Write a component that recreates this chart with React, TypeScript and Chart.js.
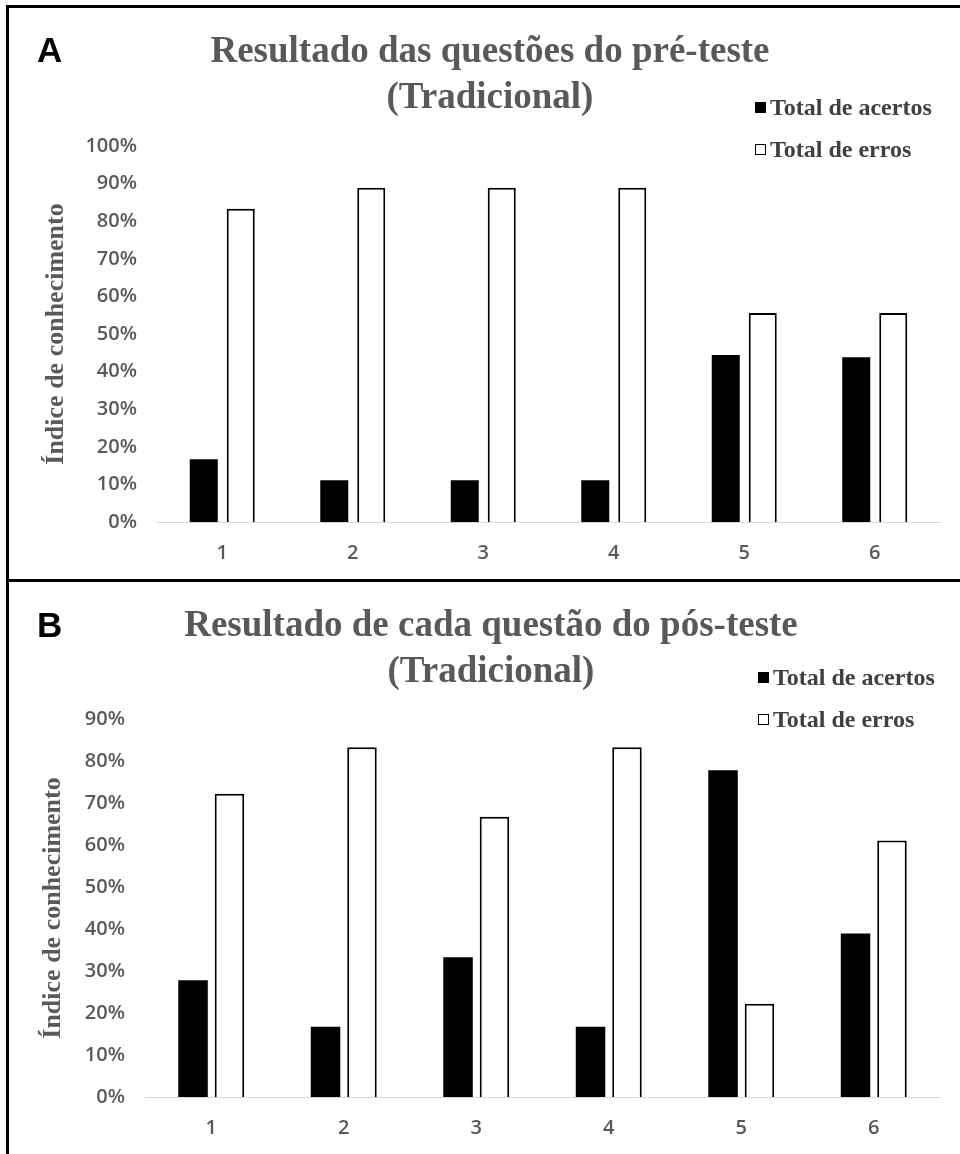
import React, { useEffect, useRef } from "react";
import { Chart, registerables } from "chart.js";
Chart.register(...registerables);

const questions = ["1", "2", "3", "4", "5", "6"];
const seriesLabels = ["Total de acertos", "Total de erros"];

const preAcertos = [16.7, 11.1, 11.1, 11.1, 44.4, 43.8];
const preErros = [83.3, 88.9, 88.9, 88.9, 55.6, 55.6];
const posAcertos = [27.8, 16.7, 33.3, 16.7, 77.8, 38.9];
const posErros = [72.2, 83.3, 66.7, 83.3, 22.2, 61.1];

const preYMax = 100;
const posYMax = 90;
const yStep = 10;

const preTitle = ["Resultado das questões do pré-teste", "(Tradicional)"];
const posTitle = ["Resultado de cada questão do pós-teste", "(Tradicional)"];
const yTitle = "Índice de conhecimento";
const panelLetters = ["A", "B"];

const GRAY = "#595959";
const TICK_FONT = { family: "'Open Sans', 'Noto Sans', sans-serif", size: 20, weight: "600" as const };

type PanelProps = {
  top: number;
  height: number;
  yWidth: number;
  padTop: number;
  yMax: number;
  acertos: number[];
  erros: number[];
  catPct: number;
  barPct: number;
  yTitlePad: number;
};

function PanelChart(p: PanelProps) {
  const ref = useRef<HTMLCanvasElement | null>(null);
  useEffect(() => {
    if (!ref.current) return;
    const chart = new Chart(ref.current, {
      type: "bar",
      data: {
        labels: questions,
        datasets: [
          {
            label: seriesLabels[0],
            data: p.acertos,
            backgroundColor: "#000000",
            borderColor: "#000000",
            borderWidth: 0,
            categoryPercentage: p.catPct,
            barPercentage: p.barPct,
          },
          {
            label: seriesLabels[1],
            data: p.erros,
            backgroundColor: "#ffffff",
            borderColor: "#000000",
            borderWidth: 2,
            categoryPercentage: p.catPct,
            barPercentage: p.barPct,
          },
        ],
      },
      options: {
        responsive: false,
        animation: false,
        devicePixelRatio: 1,
        layout: { padding: { top: p.padTop, right: 20, bottom: 0, left: 0 } },
        plugins: {
          legend: { display: false },
          tooltip: { enabled: false },
          title: { display: false },
        },
        scales: {
          x: {
            grid: { display: false, drawTicks: false },
            border: { display: true, color: "#d9d9d9", width: 1 },
            ticks: { font: TICK_FONT, color: GRAY, padding: 19 },
            afterFit: (s: any) => {
              s.height = 57;
            },
          },
          y: {
            min: 0,
            max: p.yMax,
            grid: { display: false, drawTicks: false },
            border: { display: false },
            ticks: {
              stepSize: yStep,
              callback: (v: any) => v + "%",
              font: TICK_FONT,
              color: GRAY,
              padding: 20,
            },
            title: {
              display: true,
              text: yTitle,
              color: GRAY,
              font: { family: "'Liberation Serif', 'Times New Roman', serif", size: 26, weight: "bold" },
              padding: { top: p.yTitlePad, bottom: 0 },
            },
            afterFit: (s: any) => {
              s.width = p.yWidth;
            },
          },
        },
      },
    });
    return () => chart.destroy();
  }, []);
  return (
    <canvas
      ref={ref}
      width={951}
      height={p.height}
      style={{ position: "absolute", left: 9, top: p.top, width: 951, height: p.height, display: "block" }}
    />
  );
}

const titleStyle: React.CSSProperties = {
  position: "absolute",
  left: 0,
  textAlign: "center",
  fontFamily: "'Liberation Serif', 'Times New Roman', serif",
  fontWeight: "bold",
  fontSize: 37,
  lineHeight: "46px",
  color: GRAY,
  whiteSpace: "nowrap",
};

const letterStyle: React.CSSProperties = {
  position: "absolute",
  left: 37,
  fontFamily: "'Liberation Sans', Arial, sans-serif",
  fontWeight: "bold",
  fontSize: 35,
  lineHeight: "35px",
  color: "#000",
};

function Legend({ left, top }: { left: number; top: number }) {
  const row = (i: number, y: number) => (
    <div
      key={i}
      style={{
        position: "absolute",
        left,
        top: y - 14,
        height: 28,
        display: "flex",
        alignItems: "center",
        whiteSpace: "nowrap",
        fontFamily: "'Liberation Serif', 'Times New Roman', serif",
        fontWeight: "bold",
        fontSize: 24,
        color: "#404040",
      }}
    >
      <span
        style={{
          display: "inline-block",
          width: i === 0 ? 11 : 9,
          height: i === 0 ? 11 : 9,
          background: i === 0 ? "#000" : "#fff",
          border: i === 0 ? "none" : "1.5px solid #000",
          marginRight: 4,
        }}
      />
      <span>{seriesLabels[i]}</span>
    </div>
  );
  return (
    <>
      {row(0, top)}
      {row(1, top + 42)}
    </>
  );
}

export default function App() {
  return (
    <div style={{ position: "absolute", left: 0, top: 0, width: 960, height: 1154, overflow: "hidden", background: "#fff" }}>
      <div
        style={{
          position: "absolute",
          left: 6,
          top: 5,
          width: 960,
          height: 1160,
          borderLeft: "3px solid #000",
          borderTop: "3px solid #000",
        }}
      />
      <div style={{ position: "absolute", left: 6, top: 579, width: 960, height: 3, background: "#000" }} />

      <PanelChart
        top={8}
        height={571}
        yWidth={148}
        padTop={138}
        yMax={preYMax}
        acertos={preAcertos}
        erros={preErros}
        catPct={0.567}
        barPct={0.757}
        yTitlePad={32}
      />
      <PanelChart
        top={582}
        height={572}
        yWidth={136}
        padTop={137}
        yMax={posYMax}
        acertos={posAcertos}
        erros={posErros}
        catPct={0.55}
        barPct={0.81}
        yTitlePad={29}
      />

      <div style={{ ...letterStyle, top: 32 }}>{panelLetters[0]}</div>
      <div style={{ ...letterStyle, top: 607 }}>{panelLetters[1]}</div>

      <div style={{ ...titleStyle, top: 27, width: 980 }}>
        <div>{preTitle[0]}</div>
        <div>{preTitle[1]}</div>
      </div>
      <div style={{ ...titleStyle, top: 601, width: 982 }}>
        <div>{posTitle[0]}</div>
        <div>{posTitle[1]}</div>
      </div>

      <Legend left={755} top={107} />
      <Legend left={758} top={677} />
    </div>
  );
}
